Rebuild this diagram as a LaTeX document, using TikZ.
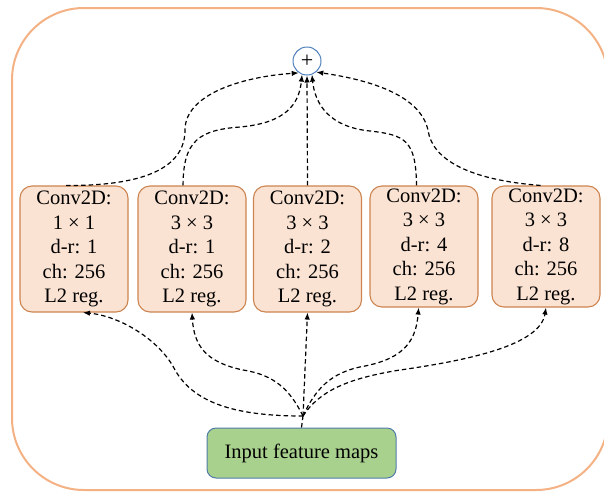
\documentclass[tikz,border=0pt]{standalone}
\usepackage{fontspec}
\setmainfont{Liberation Serif}
\usetikzlibrary{arrows.meta}

\definecolor{boxfill}{HTML}{FBE3D3}
\definecolor{boxline}{HTML}{CC8450}
\definecolor{frameline}{HTML}{F4B183}
\definecolor{inpfill}{HTML}{A9D18E}
\definecolor{inpline}{HTML}{4F7BA8}
\definecolor{sumline}{HTML}{4F81BD}

\begin{document}
\begin{tikzpicture}[x=1pt, y=-1pt,
	convbox/.style={draw=boxline, fill=boxfill, line width=1.1pt, rounded corners=12pt, minimum width=108pt, inner sep=0pt, align=center, font=\fontsize{20.5}{24.5}\selectfont},
	sumnode/.style={circle, draw=sumline, fill=white, line width=1pt, minimum size=28pt, inner sep=0pt, font=\fontsize{22}{24}\selectfont},
	inputbox/.style={draw=inpline, fill=inpfill, line width=1pt, rounded corners=9pt, minimum width=189pt, minimum height=50pt, font=\fontsize{20.5}{24}\selectfont},
	flow/.style={dash pattern=on 4.5pt off 3pt, line width=1.2pt, -{Latex[length=7pt, width=5.5pt]}}]

	% picture size, the frame runs past the right side
	\useasboundingbox (0,0) rectangle (604,493);
	\draw[frameline, line width=2pt, rounded corners=72pt] (12,8) rectangle (608,490);

	% the parallel conv branches
	\node[convbox, minimum height=126pt] (c1) at (74,249) {Conv2D:\\1 × 1\\d-r: 1\\ch: 256\\L2 reg.};
	\node[convbox, minimum height=126pt] (c2) at (192,249) {Conv2D:\\3 × 3\\d-r: 1\\ch: 256\\L2 reg.};
	\node[convbox, minimum height=126pt] (c3) at (307.5,249) {Conv2D:\\3 × 3\\d-r: 2\\ch: 256\\L2 reg.};
	\node[convbox, minimum height=121pt] (c4) at (424,246.5) {Conv2D:\\3 × 3\\d-r: 4\\ch: 256\\L2 reg.};
	\node[convbox, minimum height=121pt] (c5) at (546,246.5) {Conv2D:\\3 × 3\\d-r: 8\\ch: 256\\L2 reg.};

	\node[sumnode] (sum) at (307,61) {+};
	\node[inputbox] (inp) at (301.5,453) {Input feature maps};
	\coordinate (j) at (303,416);

	% from the branches up to the sum
	\draw[flow] (c1.97) .. controls (150,186) and (185,165) .. (185,130) .. controls (185,95) and (240,77) .. (sum.235);
	\draw[flow] (c2.98) .. controls (183,140) and (200,130) .. (240,127) .. controls (285,123) and (299,105) .. (sum.250);
	\draw[flow] (c3.north) -- (sum.south);
	\draw[flow] (c4.97) .. controls (416,140) and (405,135) .. (370,131) .. controls (330,127) and (315,105) .. (sum.290);
	\draw[flow] (c5.95) .. controls (470,180) and (432,160) .. (428,130) .. controls (420,95) and (370,80) .. (sum.310);

	% from the input to every branch
	\draw[dash pattern=on 4.5pt off 3pt, line width=1.2pt] (inp.north) -- (j);
	\draw[flow] (j) .. controls (240,416) and (195,405) .. (175,370) .. controls (160,340) and (120,316) .. (c1.-82);
	\draw[flow] (j) .. controls (290,390) and (275,375) .. (243,370) .. controls (205,362) and (194,345) .. (c2.south);
	\draw[flow] (j) -- (c3.south);
	\draw[flow] (j) .. controls (315,390) and (330,372) .. (365,366) .. controls (405,358) and (416,340) .. (c4.-95);
	\draw[flow] (j) .. controls (320,390) and (350,378) .. (400,370) .. controls (470,360) and (540,345) .. (c5.south);

\end{tikzpicture}
\end{document}
